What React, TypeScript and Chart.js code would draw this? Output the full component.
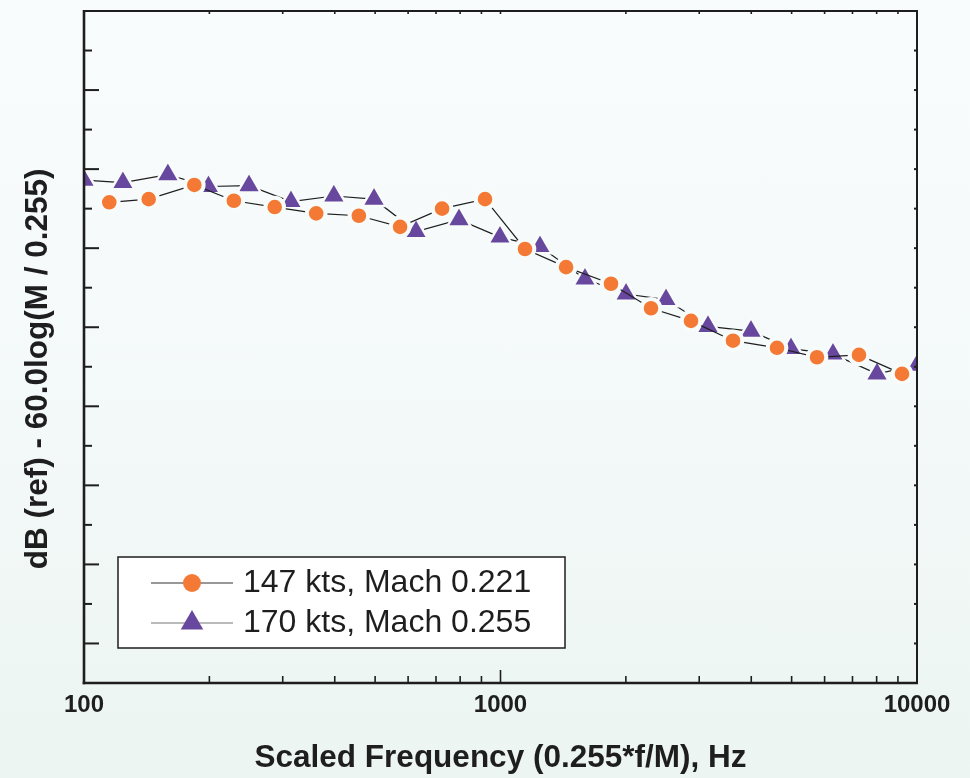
import React, { useEffect, useRef } from 'react';
import { Chart, registerables } from 'chart.js';

Chart.register(...registerables);

// ---- data ----
const freq147 = [115, 143, 184, 229, 287, 361, 457, 574, 724, 918, 1145, 1437, 1842, 2298, 2867, 3616, 4612, 5753, 7256, 9205];
const db147 = [55.8, 56.2, 58.0, 56.0, 55.2, 54.4, 54.1, 52.7, 55.0, 56.2, 49.9, 47.6, 45.5, 42.4, 40.8, 38.3, 37.4, 36.2, 36.5, 34.1];

const freq170 = [100, 124, 159, 199, 249, 314, 398, 497, 627, 795, 997, 1244, 1595, 2002, 2497, 3149, 3994, 4983, 6285, 8017, 10000];
const db170 = [58.6, 58.3, 59.3, 57.8, 57.9, 55.9, 56.6, 56.2, 52.1, 53.6, 51.4, 50.2, 46.1, 44.2, 43.5, 40.1, 39.5, 37.3, 36.6, 34.1, 35.2];

const xTickValues = [100, 200, 300, 400, 500, 600, 700, 800, 900, 1000, 2000, 3000, 4000, 5000, 6000, 7000, 8000, 9000, 10000];
const xLabelValues = [100, 1000, 10000];
const seriesLabels = ['147 kts, Mach 0.221', '170 kts, Mach 0.255'];
const xTitle = 'Scaled Frequency (0.255*f/M), Hz';
const yTitle = 'dB (ref) - 60.0log(M / 0.255)';

// ---- styles ----
const ORANGE = '#f47934';
const PURPLE = '#68489e';
const INK = '#1e1e1e';
const RING = '#f7fbfa';
const FONT = '"Liberation Sans", Arial, Helvetica, sans-serif';
const SHIFT = 5; // canvas is raised so that the point overflow padding does not push the plot down

const framePlugin = {
  id: 'frameTicks',
  afterDatasetsDraw(chart: any) {
    const { ctx, chartArea, scales } = chart;
    const { left, right, top, bottom } = chartArea;
    const x = scales.x;
    const y = scales.y;
    const seg = (x1: number, y1: number, x2: number, y2: number) => {
      ctx.beginPath();
      ctx.moveTo(x1, y1);
      ctx.lineTo(x2, y2);
      ctx.stroke();
    };
    ctx.save();
    ctx.strokeStyle = INK;
    ctx.lineCap = 'butt';
    ctx.lineWidth = 2;
    y.ticks.forEach((t: any) => {
      const py = y.getPixelForValue(t.value);
      const major = Math.abs(t.value % 10) < 1e-9;
      seg(left, py, left + (major ? 15 : 8), py);
      seg(right, py, right - 3, py);
    });
    ctx.lineWidth = 1.6;
    x.ticks.forEach((t: any) => {
      const px = x.getPixelForValue(t.value);
      const lg = Math.log10(t.value);
      const major = Math.abs(lg - Math.round(lg)) < 1e-9;
      seg(px, bottom, px, bottom - (major ? 13 : 7));
      seg(px, top, px, top + 3);
    });
    ctx.lineWidth = 2.6;
    seg(left, top - 1, left, bottom + 1.3);
    seg(left - 1.3, bottom, right + 1, bottom);
    ctx.lineWidth = 2;
    seg(left, top, right + 1, top);
    seg(right, top, right, bottom);
    ctx.restore();
  },
};

const legendPlugin = {
  id: 'boxLegend',
  afterDraw(chart: any) {
    const { ctx, chartArea } = chart;
    const bx = chartArea.left + 34;
    const by = chartArea.bottom - 126;
    const bw = 447;
    const bh = 91;
    ctx.save();
    ctx.fillStyle = '#ffffff';
    ctx.fillRect(bx, by, bw, bh);
    ctx.strokeStyle = INK;
    ctx.lineWidth = 1.5;
    ctx.strokeRect(bx, by, bw, bh);
    const rows = [
      { cy: by + 26, style: 'circle', color: ORANGE, line: '#333333' },
      { cy: by + 66, style: 'triangle', color: PURPLE, line: '#777777' },
    ];
    rows.forEach((r, i) => {
      ctx.strokeStyle = r.line;
      ctx.lineWidth = 1.2;
      ctx.beginPath();
      ctx.moveTo(bx + 33, r.cy);
      ctx.lineTo(bx + 115, r.cy);
      ctx.stroke();
      const mx = bx + 74;
      ctx.fillStyle = r.color;
      ctx.beginPath();
      if (r.style === 'circle') {
        ctx.arc(mx, r.cy, 9, 0, Math.PI * 2);
      } else {
        const rr = 13;
        ctx.moveTo(mx, r.cy - rr);
        ctx.lineTo(mx + rr * Math.sin((2 * Math.PI) / 3), r.cy - rr * Math.cos((2 * Math.PI) / 3));
        ctx.lineTo(mx + rr * Math.sin((4 * Math.PI) / 3), r.cy - rr * Math.cos((4 * Math.PI) / 3));
        ctx.closePath();
      }
      ctx.fill();
      ctx.fillStyle = INK;
      ctx.font = `32px ${FONT}`;
      ctx.textAlign = 'left';
      ctx.textBaseline = 'middle';
      ctx.fillText(seriesLabels[i], bx + 125, r.cy);
    });
    ctx.restore();
  },
};

export default function App() {
  const ref = useRef<HTMLCanvasElement | null>(null);

  useEffect(() => {
    const canvas = ref.current;
    if (!canvas) return;
    const chart = new Chart(canvas, {
      type: 'line',
      data: {
        datasets: [
          {
            label: seriesLabels[0],
            data: freq147.map((f, i) => ({ x: f, y: db147[i] })),
            borderColor: INK,
            borderWidth: 1.2,
            pointStyle: 'circle',
            pointRadius: 9.3,
            pointHoverRadius: 9.3,
            pointBackgroundColor: ORANGE,
            pointBorderColor: RING,
            pointBorderWidth: 4,
            tension: 0,
            clip: 0,
          } as any,
          {
            label: seriesLabels[1],
            data: freq170.map((f, i) => ({ x: f, y: db170[i] })),
            borderColor: INK,
            borderWidth: 1.2,
            pointStyle: 'triangle',
            pointRadius: 13.5,
            pointHoverRadius: 13.5,
            pointBackgroundColor: PURPLE,
            pointBorderColor: RING,
            pointBorderWidth: 2.5,
            tension: 0,
            clip: 0,
          } as any,
        ],
      },
      options: {
        animation: false,
        responsive: false,
        events: [],
        layout: { padding: { top: 11 + SHIFT, right: 53, left: 0, bottom: 0 } },
        plugins: {
          legend: { display: false },
          tooltip: { enabled: false },
        },
        scales: {
          x: {
            type: 'logarithmic',
            position: 'bottom',
            min: 100,
            max: 10000,
            afterBuildTicks: (s: any) => {
              s.ticks = xTickValues.map((v) => ({ value: v }));
            },
            afterFit: (s: any) => {
              s.height = 95;
            },
            grid: { display: false, drawTicks: false },
            border: { display: false },
            ticks: {
              autoSkip: false,
              maxRotation: 0,
              padding: 8,
              color: INK,
              font: { family: FONT, size: 24, weight: 'bold' },
              callback: (v: any) => (xLabelValues.includes(Number(v)) ? String(v) : ''),
            },
            title: {
              display: true,
              text: xTitle,
              color: INK,
              font: { family: FONT, size: 31.5, weight: 'bold' },
              padding: { top: 0, bottom: 1 },
            },
          },
          y: {
            type: 'linear',
            min: -5,
            max: 80,
            afterFit: (s: any) => {
              s.width = 84;
            },
            grid: { display: false, drawTicks: false },
            border: { display: false },
            ticks: { stepSize: 5, display: false },
            title: {
              display: true,
              text: yTitle + '\u00a0'.repeat(5),
              color: INK,
              font: { family: FONT, size: 31.5, weight: 'bold' },
              padding: { top: 19, bottom: 0 },
            },
          },
        },
      } as any,
      plugins: [framePlugin, legendPlugin],
    });
    return () => chart.destroy();
  }, []);

  return (
    <div
      style={{
        position: 'fixed',
        left: 0,
        top: 0,
        width: 970,
        height: 778,
        overflow: 'hidden',
        background: 'linear-gradient(180deg, #f9fcfd 0%, #f4f9f9 50%, #ecf5f1 100%)',
      }}
    >
      <canvas
        ref={ref}
        width={970}
        height={778 + SHIFT}
        style={{ display: 'block', marginTop: -SHIFT }}
      />
    </div>
  );
}
